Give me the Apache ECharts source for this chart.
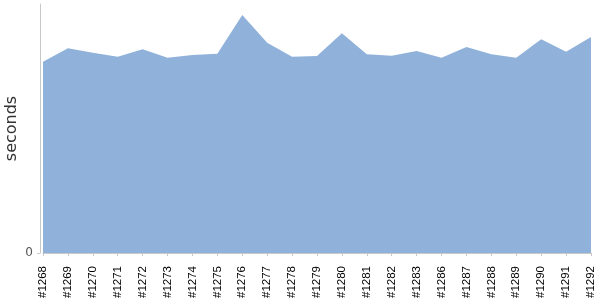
<!DOCTYPE html>
<html><head><meta charset="utf-8">
<script src="https://cdn.jsdelivr.net/npm/echarts@6/dist/echarts.min.js"></script>
<style>html,body{margin:0;padding:0;background:#fff}#c{width:600px;height:300px}</style>
</head><body><div id="c"></div>
<script>
const builds = ['#1268','#1269','#1270','#1271','#1272','#1273','#1274','#1275','#1276','#1277','#1278','#1279','#1280','#1281','#1282','#1283','#1286','#1287','#1288','#1289','#1290','#1291','#1292'];
const seconds = [191.3,204.7,200.3,196.3,203.7,195.3,198,199.3,238,210.3,196.3,197,219.7,198.7,197.3,202,195.3,206,198.7,195.3,213.7,201.3,216];
const yTicks = [0];
const yMax = 249;

const chart = echarts.init(document.getElementById('c'));
chart.setOption({
  animation: false,
  grid: {left: 43, right: 9, top: 4, bottom: 47, outerBoundsMode: 'none', containLabel: false},
  xAxis: {
    type: 'category', data: builds, boundaryGap: false, offset: 4,
    axisLine: {lineStyle: {color: '#c8c8c8'}},
    axisTick: {show: true, length: 3, lineStyle: {color: '#c8c8c8'}},
    axisLabel: {rotate: 90, interval: 0, margin: 9, color: '#000', fontFamily: 'Liberation Sans', fontSize: 11.5}
  },
  yAxis: {
    type: 'value', min: 0, max: yMax, offset: 3,
    name: 'seconds', nameLocation: 'middle', nameGap: 20, nameMoveOverlap: false,
    nameTextStyle: {fontFamily: 'DejaVu Sans', fontSize: 16, color: '#333'},
    axisLine: {show: true, lineStyle: {color: '#c8c8c8'}},
    axisTick: {show: true, length: 3, customValues: yTicks, lineStyle: {color: '#c8c8c8'}},
    axisLabel: {customValues: yTicks, color: '#555', fontFamily: 'DejaVu Sans', fontSize: 12, margin: 7},
    splitLine: {show: false}
  },
  series: [{
    type: 'line', data: seconds, symbol: 'none',
    lineStyle: {width: 0, color: '#8fb1da'},
    areaStyle: {color: '#8fb1da', opacity: 1}
  }]
});
</script></body></html>
